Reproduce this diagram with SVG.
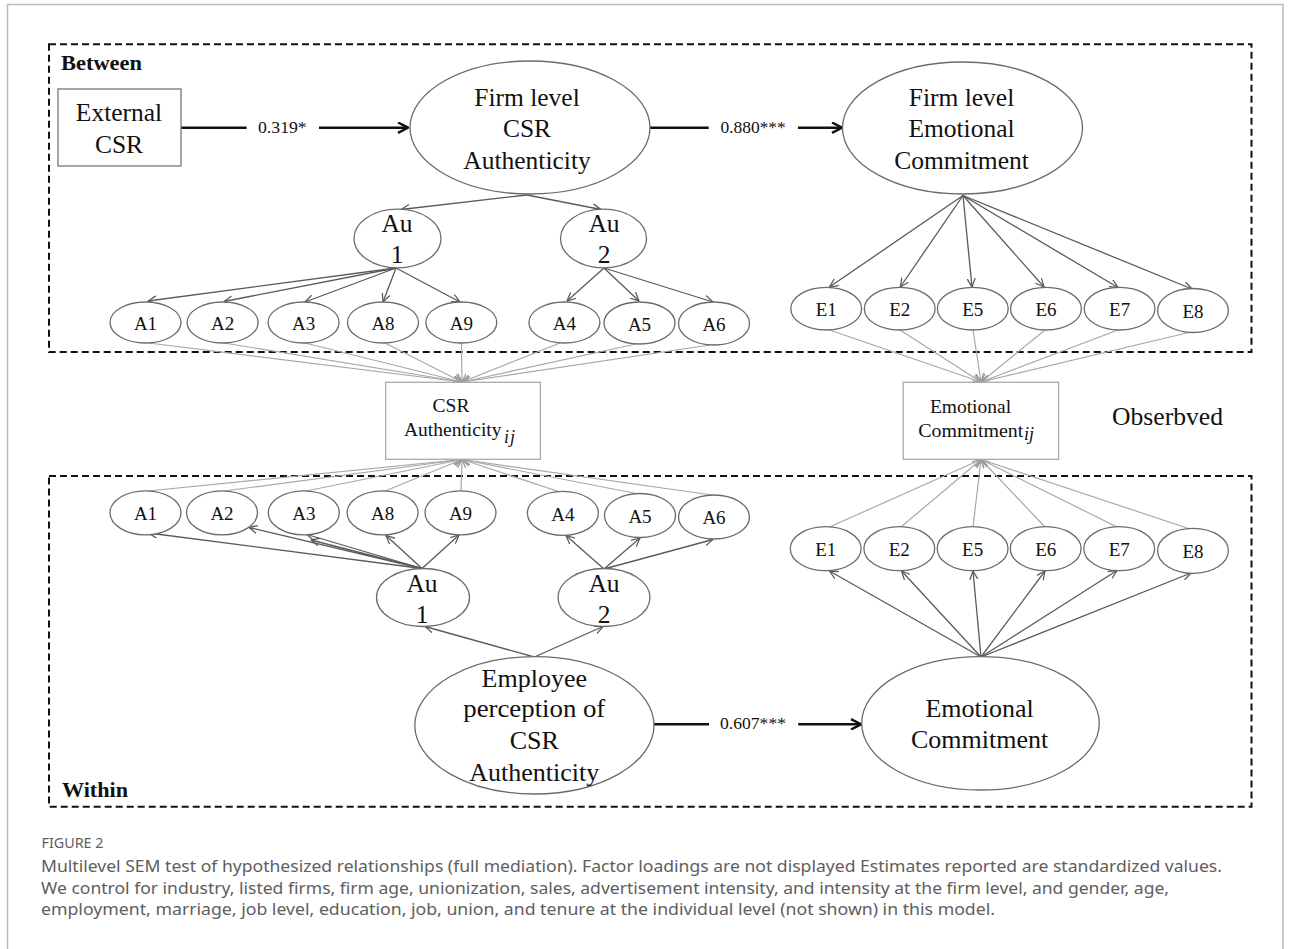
<svg xmlns="http://www.w3.org/2000/svg" width="1293" height="949" viewBox="0 0 1293 949">
<defs>
<style>
.t{font-family:"Liberation Serif","Times New Roman",serif;fill:#111;text-anchor:middle}
.big{font-size:25.5px}
.sm{font-size:19px}
.coef{font-size:16.5px;text-anchor:start}
.lab{font-family:"Liberation Serif","Times New Roman",serif;font-weight:bold;font-size:21px;fill:#111}
.el{fill:#fff;stroke:#6b6b6b;stroke-width:1.3}
.box{fill:#fff;stroke:#777;stroke-width:1.3}
.obs{fill:#fff;stroke:#aaa;stroke-width:1.3}
.dash{fill:none;stroke:#111;stroke-width:2;stroke-dasharray:7 4}
.ld{fill:none;stroke:#5a5a5a;stroke-width:1.3;marker-end:url(#ah)}
.lg{fill:none;stroke:#a8a8a8;stroke-width:1.2;marker-end:url(#ahg)}
.th{fill:none;stroke:#111;stroke-width:2.6}
.tha{fill:none;stroke:#111;stroke-width:2.6;marker-end:url(#aht)}
.cap{font-family:"Noto Sans","Open Sans",sans-serif;fill:#5e5e5e}
</style>
<marker id="ah" viewBox="0 0 10 10" refX="9.5" refY="5" markerWidth="9" markerHeight="9" markerUnits="userSpaceOnUse" orient="auto"><path d="M0,0.5 L9.5,5 L0,9.5" fill="none" stroke="#5a5a5a" stroke-width="1.4"/></marker>
<marker id="ahg" viewBox="0 0 10 10" refX="9.5" refY="5" markerWidth="9" markerHeight="9" markerUnits="userSpaceOnUse" orient="auto"><path d="M0,0.5 L9.5,5 L0,9.5" fill="none" stroke="#999" stroke-width="1.4"/></marker>
<marker id="aht" viewBox="0 0 12 12" refX="11" refY="6" markerWidth="12" markerHeight="12" markerUnits="userSpaceOnUse" orient="auto"><path d="M1,0.8 L11,6 L1,11.2" fill="none" stroke="#111" stroke-width="2.4"/></marker>
</defs>
<rect x="0" y="0" width="1293" height="949" fill="#fff"/>
<rect x="7.5" y="4.5" width="1275.5" height="980" fill="none" stroke="#bdbdbd" stroke-width="1.5"/>

<g id="levels">
<rect class="dash" x="49" y="44.3" width="1202.5" height="307.7"/>
<rect class="dash" x="49" y="476" width="1202.5" height="330.7"/>
<text class="lab" x="61" y="70" textLength="81" lengthAdjust="spacingAndGlyphs">Between</text>
<text class="lab" x="62" y="796.5" textLength="66" lengthAdjust="spacingAndGlyphs">Within</text>
</g>

<g id="connectors">
<line class="th" x1="181" y1="127.7" x2="246.6" y2="127.7"/>
<line class="tha" x1="319" y1="127.7" x2="408" y2="127.7"/>
<line class="th" x1="650" y1="127.7" x2="708.7" y2="127.7"/>
<line class="tha" x1="798" y1="127.7" x2="842" y2="127.7"/>
<line class="th" x1="654" y1="724.3" x2="709" y2="724.3"/>
<line class="tha" x1="798.2" y1="724.3" x2="861" y2="724.3"/>
<line class="ld" x1="527" y1="195" x2="401" y2="209.5"/>
<line class="ld" x1="527" y1="195" x2="601" y2="209.5"/>
<line class="ld" x1="396" y1="268" x2="148" y2="301"/>
<line class="ld" x1="396" y1="268" x2="224" y2="301.5"/>
<line class="ld" x1="396" y1="268" x2="305" y2="302"/>
<line class="ld" x1="396" y1="268" x2="383" y2="302"/>
<line class="ld" x1="396" y1="268" x2="460" y2="302"/>
<line class="ld" x1="604" y1="268" x2="567" y2="301"/>
<line class="ld" x1="604" y1="268" x2="639" y2="301"/>
<line class="ld" x1="604" y1="268" x2="713" y2="302"/>
<line class="ld" x1="963" y1="195.5" x2="829.5" y2="287"/>
<line class="ld" x1="963" y1="195.5" x2="900.3" y2="287"/>
<line class="ld" x1="963" y1="195.5" x2="972" y2="287"/>
<line class="ld" x1="963" y1="195.5" x2="1044" y2="287"/>
<line class="ld" x1="963" y1="195.5" x2="1118" y2="287.5"/>
<line class="ld" x1="963" y1="195.5" x2="1192" y2="289"/>
<line class="lg" x1="149" y1="343" x2="462" y2="382"/>
<line class="lg" x1="224" y1="343" x2="462" y2="382"/>
<line class="lg" x1="305" y1="343" x2="462" y2="382"/>
<line class="lg" x1="385" y1="343" x2="462" y2="382"/>
<line class="lg" x1="461.5" y1="343" x2="462" y2="382"/>
<line class="lg" x1="560" y1="343" x2="462" y2="382"/>
<line class="lg" x1="636" y1="344" x2="462" y2="382"/>
<line class="lg" x1="710" y1="345" x2="462" y2="382"/>
<line class="lg" x1="829.5" y1="330" x2="981" y2="382"/>
<line class="lg" x1="900" y1="330" x2="981" y2="382"/>
<line class="lg" x1="973" y1="330" x2="981" y2="382"/>
<line class="lg" x1="1045" y1="330" x2="981" y2="382"/>
<line class="lg" x1="1118" y1="330" x2="981" y2="382"/>
<line class="lg" x1="1191" y1="332" x2="981" y2="382"/>
<line class="lg" x1="148" y1="491" x2="462" y2="459.5"/>
<line class="lg" x1="224" y1="491" x2="462" y2="459.5"/>
<line class="lg" x1="306" y1="491" x2="462" y2="459.5"/>
<line class="lg" x1="385" y1="491" x2="462" y2="459.5"/>
<line class="lg" x1="461" y1="491" x2="462" y2="459.5"/>
<line class="lg" x1="560" y1="492" x2="462" y2="459.5"/>
<line class="lg" x1="636" y1="493.5" x2="462" y2="459.5"/>
<line class="lg" x1="712" y1="495" x2="462" y2="459.5"/>
<line class="lg" x1="829.5" y1="527" x2="981" y2="459.5"/>
<line class="lg" x1="901" y1="527" x2="981" y2="459.5"/>
<line class="lg" x1="973" y1="527" x2="981" y2="459.5"/>
<line class="lg" x1="1045" y1="527" x2="981" y2="459.5"/>
<line class="lg" x1="1117" y1="527" x2="981" y2="459.5"/>
<line class="lg" x1="1190" y1="529" x2="981" y2="459.5"/>
<line class="ld" x1="422" y1="568.5" x2="148.5" y2="533"/>
<line class="ld" x1="422" y1="568.5" x2="249" y2="527.5"/>
<line class="ld" x1="422" y1="568.5" x2="307" y2="534.5"/>
<line class="ld" x1="422" y1="568.5" x2="311" y2="540"/>
<line class="ld" x1="422" y1="568.5" x2="386" y2="535.5"/>
<line class="ld" x1="422" y1="568.5" x2="459" y2="535"/>
<line class="ld" x1="604" y1="569" x2="566" y2="535.5"/>
<line class="ld" x1="604" y1="569" x2="640" y2="538"/>
<line class="ld" x1="604" y1="569" x2="713" y2="539.5"/>
<line class="ld" x1="534.3" y1="657" x2="425" y2="626.5"/>
<line class="ld" x1="534.3" y1="657" x2="603" y2="626.5"/>
<line class="ld" x1="981" y1="657" x2="829.5" y2="571"/>
<line class="ld" x1="981" y1="657" x2="901.6" y2="571"/>
<line class="ld" x1="981" y1="657" x2="973" y2="571"/>
<line class="ld" x1="981" y1="657" x2="1045" y2="571"/>
<line class="ld" x1="981" y1="657" x2="1117" y2="570.5"/>
<line class="ld" x1="981" y1="657" x2="1191" y2="573"/>
<text class="t coef" x="258" y="132.7" textLength="48.7" lengthAdjust="spacingAndGlyphs">0.319*</text>
<text class="t coef" x="720.4" y="132.7" textLength="65.4" lengthAdjust="spacingAndGlyphs">0.880***</text>
<text class="t coef" x="720" y="729" textLength="66" lengthAdjust="spacingAndGlyphs">0.607***</text>
</g>

<g id="external-csr">
<rect class="box" x="58" y="89" width="123" height="77"/>
<text class="t big" x="119" y="120.7">External</text>
<text class="t big" x="119" y="152.7">CSR</text>
</g>
<g id="firm-csr-authenticity">
<ellipse class="el" cx="530" cy="127.5" rx="120" ry="66.5"/>
<text class="t big" x="527" y="106">Firm level</text>
<text class="t big" x="527" y="137">CSR</text>
<text class="t big" x="527" y="169">Authenticity</text>
</g>
<g id="firm-emotional-commitment">
<ellipse class="el" cx="962.5" cy="128" rx="120" ry="66"/>
<text class="t big" x="961.5" y="106">Firm level</text>
<text class="t big" x="961.5" y="137.3">Emotional</text>
<text class="t big" x="961.5" y="169.3">Commitment</text>
</g>
<g id="b-au1"><ellipse class="el" cx="397.5" cy="238.5" rx="43.5" ry="29.3"/><text class="t big" x="397" y="232">Au</text><text class="t big" x="397" y="263">1</text></g>
<g id="b-au2"><ellipse class="el" cx="603.5" cy="238.5" rx="43" ry="29.3"/><text class="t big" x="604" y="232">Au</text><text class="t big" x="604" y="263">2</text></g>
<g id="b-a1"><ellipse class="el" cx="145.5" cy="322.5" rx="35.5" ry="20.5"/><text class="t sm" x="145.5" y="330">A1</text></g>
<g id="b-a2"><ellipse class="el" cx="222.6" cy="322.5" rx="35.5" ry="20.5"/><text class="t sm" x="222.6" y="330">A2</text></g>
<g id="b-a3"><ellipse class="el" cx="303.6" cy="322.5" rx="35.5" ry="20.5"/><text class="t sm" x="303.6" y="330">A3</text></g>
<g id="b-a8"><ellipse class="el" cx="383" cy="322.5" rx="35.5" ry="20.5"/><text class="t sm" x="383" y="330">A8</text></g>
<g id="b-a9"><ellipse class="el" cx="461.3" cy="322.5" rx="35.5" ry="20.5"/><text class="t sm" x="461.3" y="330">A9</text></g>
<g id="b-a4"><ellipse class="el" cx="564.4" cy="322.5" rx="35.5" ry="20.5"/><text class="t sm" x="564.4" y="330">A4</text></g>
<g id="b-a5"><ellipse class="el" cx="639.5" cy="323" rx="35.5" ry="21"/><text class="t sm" x="639.5" y="330.5">A5</text></g>
<g id="b-a6"><ellipse class="el" cx="714" cy="323.5" rx="35.5" ry="21.5"/><text class="t sm" x="714" y="331">A6</text></g>
<g id="b-e1"><ellipse class="el" cx="826.2" cy="308.7" rx="35.4" ry="21.3"/><text class="t sm" x="826.2" y="316">E1</text></g>
<g id="b-e2"><ellipse class="el" cx="899.7" cy="308.7" rx="35.4" ry="21.3"/><text class="t sm" x="899.7" y="316">E2</text></g>
<g id="b-e5"><ellipse class="el" cx="972.8" cy="308.7" rx="35.4" ry="21.3"/><text class="t sm" x="972.8" y="316">E5</text></g>
<g id="b-e6"><ellipse class="el" cx="1046" cy="308.7" rx="35.4" ry="21.3"/><text class="t sm" x="1046" y="316">E6</text></g>
<g id="b-e7"><ellipse class="el" cx="1119.6" cy="308.7" rx="35.4" ry="21.3"/><text class="t sm" x="1119.6" y="316">E7</text></g>
<g id="b-e8"><ellipse class="el" cx="1193" cy="310.5" rx="35.4" ry="22"/><text class="t sm" x="1193" y="317.5">E8</text></g>

<g id="csr-authenticity-ij">
<rect class="obs" x="385.6" y="382.3" width="154.8" height="77"/>
<text class="t" style="font-size:19.5px" x="451" y="412.3">CSR</text>
<text class="t" style="font-size:19.5px;text-anchor:start" x="404" y="436" textLength="97.5" lengthAdjust="spacingAndGlyphs">Authenticity</text>
<text class="t" style="font-size:18px;font-style:italic;text-anchor:start" x="504" y="442.5" textLength="11" lengthAdjust="spacing">ij</text>
</g>
<g id="emotional-commitment-ij">
<rect class="obs" x="903.2" y="382.3" width="155.4" height="77"/>
<text class="t" style="font-size:19.5px" x="970.5" y="413.3">Emotional</text>
<text class="t" style="font-size:19.5px;text-anchor:start" x="918.2" y="436.7" textLength="105" lengthAdjust="spacingAndGlyphs">Commitment</text>
<text class="t" style="font-size:18px;font-style:italic;text-anchor:start" x="1024" y="439.5">ij</text>
</g>
<text class="t" style="font-size:25.5px;text-anchor:start" x="1112" y="425" textLength="111" lengthAdjust="spacingAndGlyphs">Obserbved</text>

<g id="w-a1"><ellipse class="el" cx="145.5" cy="512.8" rx="35.5" ry="22"/><text class="t sm" x="145.5" y="520">A1</text></g>
<g id="w-a2"><ellipse class="el" cx="222" cy="512.8" rx="35.5" ry="22"/><text class="t sm" x="222" y="520">A2</text></g>
<g id="w-a3"><ellipse class="el" cx="303.8" cy="512.8" rx="35.5" ry="22"/><text class="t sm" x="303.8" y="520">A3</text></g>
<g id="w-a8"><ellipse class="el" cx="382.6" cy="512.8" rx="35.5" ry="22"/><text class="t sm" x="382.6" y="520">A8</text></g>
<g id="w-a9"><ellipse class="el" cx="460.5" cy="512.8" rx="35.5" ry="22"/><text class="t sm" x="460.5" y="520">A9</text></g>
<g id="w-a4"><ellipse class="el" cx="562.9" cy="513.3" rx="35.5" ry="22"/><text class="t sm" x="562.9" y="520.5">A4</text></g>
<g id="w-a5"><ellipse class="el" cx="640" cy="515.5" rx="35.5" ry="22"/><text class="t sm" x="640" y="522.5">A5</text></g>
<g id="w-a6"><ellipse class="el" cx="714" cy="517" rx="35.5" ry="22"/><text class="t sm" x="714" y="524">A6</text></g>
<g id="w-au1"><ellipse class="el" cx="423" cy="597.5" rx="46.5" ry="29"/><text class="t big" x="422" y="591.7">Au</text><text class="t big" x="422" y="623.3">1</text></g>
<g id="w-au2"><ellipse class="el" cx="604" cy="597.5" rx="46" ry="29"/><text class="t big" x="604" y="591.7">Au</text><text class="t big" x="604" y="623.3">2</text></g>
<g id="w-e1"><ellipse class="el" cx="825.7" cy="548.7" rx="35.4" ry="22"/><text class="t sm" x="825.7" y="555.5">E1</text></g>
<g id="w-e2"><ellipse class="el" cx="899.3" cy="548.7" rx="35.4" ry="22"/><text class="t sm" x="899.3" y="555.5">E2</text></g>
<g id="w-e5"><ellipse class="el" cx="972.6" cy="548.7" rx="35.4" ry="22"/><text class="t sm" x="972.6" y="555.5">E5</text></g>
<g id="w-e6"><ellipse class="el" cx="1045.7" cy="548.7" rx="35.4" ry="22"/><text class="t sm" x="1045.7" y="555.5">E6</text></g>
<g id="w-e7"><ellipse class="el" cx="1119.2" cy="548.7" rx="35.4" ry="22"/><text class="t sm" x="1119.2" y="555.5">E7</text></g>
<g id="w-e8"><ellipse class="el" cx="1193" cy="550.8" rx="35.4" ry="22.5"/><text class="t sm" x="1193" y="558">E8</text></g>

<g id="employee-perception">
<ellipse class="el" cx="534.4" cy="725.3" rx="119.6" ry="68.7"/>
<text class="t" style="font-size:26px" x="534.3" y="686.7">Employee</text>
<text class="t" style="font-size:26px" x="534.3" y="717.3" textLength="142" lengthAdjust="spacingAndGlyphs">perception of</text>
<text class="t" style="font-size:26px" x="534.3" y="749.3">CSR</text>
<text class="t" style="font-size:26px" x="534.3" y="781.3">Authenticity</text>
</g>
<g id="emotional-commitment">
<ellipse class="el" cx="980.5" cy="723.3" rx="118.8" ry="66.7"/>
<text class="t" style="font-size:26px" x="979.6" y="717.3">Emotional</text>
<text class="t" style="font-size:26px" x="979.6" y="748.3">Commitment</text>
</g>

<g id="caption">
<text class="cap" style="font-size:14px" x="41.5" y="848.3" textLength="62" lengthAdjust="spacingAndGlyphs">FIGURE 2</text>
<text class="cap" style="font-size:16.5px" x="41" y="872" textLength="1181" lengthAdjust="spacingAndGlyphs">Multilevel SEM test of hypothesized relationships (full mediation). Factor loadings are not displayed Estimates reported are standardized values.</text>
<text class="cap" style="font-size:16.5px" x="41" y="893.7" textLength="1128" lengthAdjust="spacingAndGlyphs">We control for industry, listed firms, firm age, unionization, sales, advertisement intensity, and intensity at the firm level, and gender, age,</text>
<text class="cap" style="font-size:16.5px" x="41" y="915.4" textLength="954" lengthAdjust="spacingAndGlyphs">employment, marriage, job level, education, job, union, and tenure at the individual level (not shown) in this model.</text>
</g>
</svg>
